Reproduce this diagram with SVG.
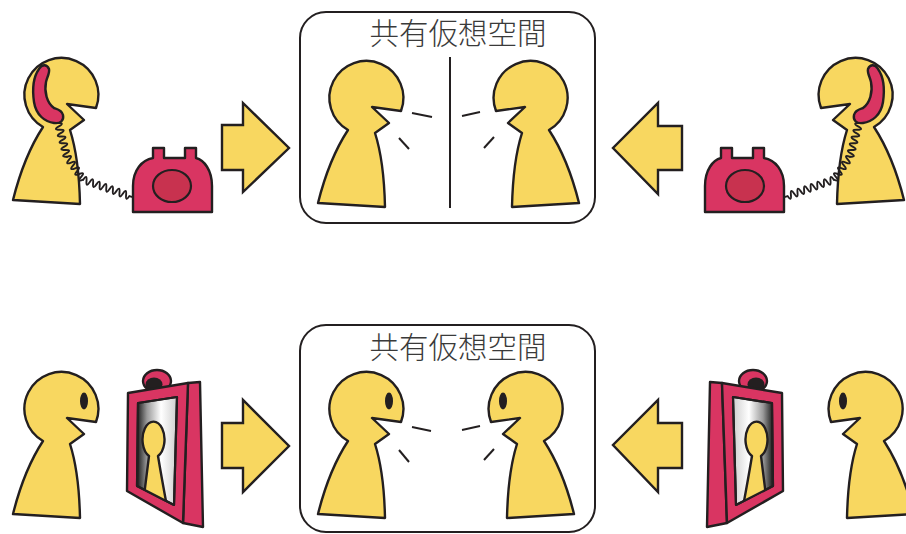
<svg xmlns="http://www.w3.org/2000/svg" xmlns:xlink="http://www.w3.org/1999/xlink" width="906" height="534" viewBox="0 0 906 534">
  <style>
    .fig { fill: #f8d760; stroke: #231f20; stroke-width: 2.4; stroke-linejoin: round; }
    .red { fill: #d93562; stroke: #231f20; stroke-width: 2.4; stroke-linejoin: round; }
    .dial { fill: #c8324f; stroke: #231f20; stroke-width: 2.2; }
    .ink { fill: #231f20; }
    .cord { fill: none; stroke: #231f20; stroke-width: 1.9; stroke-linecap: round; stroke-linejoin: round; }
    .box { fill: #ffffff; stroke: #231f20; stroke-width: 2; }
    .rule { stroke: #231f20; stroke-width: 2; }
    .talk { stroke: #231f20; stroke-width: 2; stroke-linecap: butt; }
    .arrow { fill: #f8d760; stroke: #231f20; stroke-width: 2.4; stroke-linejoin: miter; }
    .screen { fill: url(#glass); stroke: #231f20; stroke-width: 2.2; stroke-linejoin: round; }
    .label { font-family: "Noto Sans CJK JP", "Noto Sans CJK SC", sans-serif; font-size: 29.5px; font-weight: 300; fill: #3a3a3a; text-anchor: middle; }
  </style>
  <defs>
    <!-- pawn-shaped figure facing right, head centred on the origin -->
    <path id="man" class="fig" d="M36,12 A37,37 0 1 0 -17,31 Q-36,60 -47,104 L20,108 Q19,62 10,34 L24,24 L7,8 Z"/>
    <g id="man-eye">
      <use xlink:href="#man"/>
      <ellipse class="ink" cx="24" cy="-9" rx="4" ry="8.5"/>
    </g>

    <linearGradient id="glass" gradientUnits="userSpaceOnUse" x1="137" y1="0" x2="177" y2="0">
      <stop offset="0" stop-color="#1a1a1a"/>
      <stop offset="0.25" stop-color="#9a9a9a"/>
      <stop offset="0.6" stop-color="#ffffff"/>
      <stop offset="1" stop-color="#cfcfcf"/>
    </linearGradient>
    <clipPath id="screen-clip">
      <polygon points="138,403 177,397 174,505 137,486"/>
    </clipPath>

    <!-- caller holding a handset -->
    <g id="caller-art">
      <use xlink:href="#man" transform="translate(60,96)"/>
      <path class="red" d="M39,69 C34,76 32,88 34,102 C36,115 45,122 54,123 C61,124 64,120 63,115 C62,110 57,109 54,108 C47,103 44,92 46,82 C47,77 50,73 49,69 C47,64 42,64 39,69 Z"/>
    </g>

    <!-- desk telephone -->
    <g id="phone-art">
      <path class="red" d="M133,212 L133,186 C133,170 142,160 153,158 L153,148 L164,148 L164,158 L185,158 L185,148 L196,148 L196,158 C204,160 212,170 212,186 L212,212 Z"/>
      <ellipse class="dial" cx="172" cy="186" rx="19" ry="16"/>
    </g>

    <!-- coiled cord from handset to telephone -->
    <g id="cord-art">
      <path class="cord" transform="translate(58,123) rotate(75)" d="M0,0 q1.75,-7 3.5,0 q1.75,7 3.5,0 q1.75,-7 3.5,0 q1.75,7 3.5,0 q1.75,-7 3.5,0 q1.75,7 3.5,0 q1.75,-7 3.5,0 q1.75,7 3.5,0 q1.75,-7 3.5,0 q1.75,7 3.5,0"/>
      <path class="cord" transform="translate(67.1,156.8) rotate(55)" d="M0,0 q1.75,-7 3.5,0 q1.75,7 3.5,0 q1.75,-7 3.5,0 q1.75,7 3.5,0 q1.75,-7 3.5,0 q1.75,7 3.5,0 q1.75,-7 3.5,0 q1.75,7 3.5,0"/>
      <path class="cord" transform="translate(83.2,179.7) rotate(19.5)" d="M0,0 q1.75,-7 3.5,0 q1.75,7 3.5,0 q1.75,-7 3.5,0 q1.75,7 3.5,0 q1.75,-7 3.5,0 q1.75,7 3.5,0 q1.75,-7 3.5,0 q1.75,7 3.5,0 q1.75,-7 3.5,0 q1.75,7 3.5,0 q1.75,-7 3.5,0 q1.75,7 3.5,0 q1.75,-7 3.5,0 q1.75,7 3.5,0 l3.5,0"/>
    </g>

    <!-- video terminal: framed screen with a camera on top -->
    <g id="terminal-art">
      <ellipse class="red" cx="157" cy="381" rx="14" ry="11"/>
      <ellipse class="ink" cx="154" cy="384.5" rx="8.5" ry="7"/>
      <polygon class="red" points="188,383 200,382 203,527 183,523"/>
      <polygon class="red" points="128,393 188,383 183,523 127,491"/>
      <polygon class="screen" points="138,403 177,397 174,505 137,486"/>
      <path class="fig" clip-path="url(#screen-clip)" d="M149,456 A11,18 0 1 1 158,456 Q162,480 168,512 L142,512 Q146,480 149,456 Z"/>
      <polygon points="138,403 177,397 174,505 137,486" fill="none" stroke="#231f20" stroke-width="2.2" stroke-linejoin="round"/>
    </g>
  </defs>

  <!-- ===== upper row: telephone ===== -->
  <g id="shared-space-phone">
    <rect class="box" x="300" y="12" width="295" height="211" rx="26"/>
    <text class="label" x="458" y="44">共有仮想空間</text>
    <line class="rule" x1="450" y1="57" x2="450" y2="208"/>
  </g>
  <g id="phone-talker-a"><use xlink:href="#man" transform="translate(365,99)"/></g>
  <g id="phone-talker-b"><use xlink:href="#man" transform="translate(532,99) scale(-1,1)"/></g>
  <g id="caller-left"><use xlink:href="#caller-art"/></g>
  <g id="phone-left"><use xlink:href="#phone-art"/></g>
  <g id="caller-right"><use xlink:href="#caller-art" transform="translate(917,0) scale(-1,1)"/></g>
  <g id="phone-right"><use xlink:href="#phone-art" transform="translate(917,0) scale(-1,1)"/></g>

  <!-- ===== lower row: video ===== -->
  <g id="shared-space-video">
    <rect class="box" x="300" y="325" width="295" height="207" rx="26"/>
    <text class="label" x="458" y="358">共有仮想空間</text>
  </g>
  <g id="video-talker-a"><use xlink:href="#man-eye" transform="translate(365,410)"/></g>
  <g id="video-talker-b"><use xlink:href="#man-eye" transform="translate(527,410) scale(-1,1)"/></g>
  <g id="viewer-left"><use xlink:href="#man-eye" transform="translate(60,410)"/></g>
  <g id="terminal-left"><use xlink:href="#terminal-art"/></g>
  <g id="viewer-right"><use xlink:href="#man-eye" transform="translate(867,410) scale(-1,1)"/></g>
  <g id="terminal-right"><use xlink:href="#terminal-art" transform="translate(910,0) scale(-1,1)"/></g>

  <!-- ===== connectors: cords, speech strokes, block arrows ===== -->
  <g id="connectors">
    <use xlink:href="#cord-art"/>
    <use xlink:href="#cord-art" transform="translate(917,0) scale(-1,1)"/>

    <line class="talk" x1="412" y1="113" x2="432" y2="117"/>
    <line class="talk" x1="399" y1="138" x2="409" y2="149"/>
    <line class="talk" x1="462" y1="116" x2="480" y2="112"/>
    <line class="talk" x1="484" y1="148" x2="494" y2="137"/>

    <line class="talk" x1="412" y1="427" x2="431" y2="431"/>
    <line class="talk" x1="399" y1="450" x2="409" y2="462"/>
    <line class="talk" x1="462" y1="430" x2="480" y2="426"/>
    <line class="talk" x1="484" y1="460" x2="494" y2="449"/>

    <path class="arrow" d="M222,125 L243,125 L243,103 L289,148 L243,192 L243,170 L222,170 Z"/>
    <path class="arrow" d="M682,126 L658,126 L658,103 L613,148 L658,194 L658,170 L682,170 Z"/>
    <path class="arrow" d="M222,423 L243,423 L243,400 L289,446 L243,492 L243,468 L222,468 Z"/>
    <path class="arrow" d="M682,423 L658,423 L658,400 L613,445 L658,492 L658,468 L682,468 Z"/>
  </g>
</svg>
